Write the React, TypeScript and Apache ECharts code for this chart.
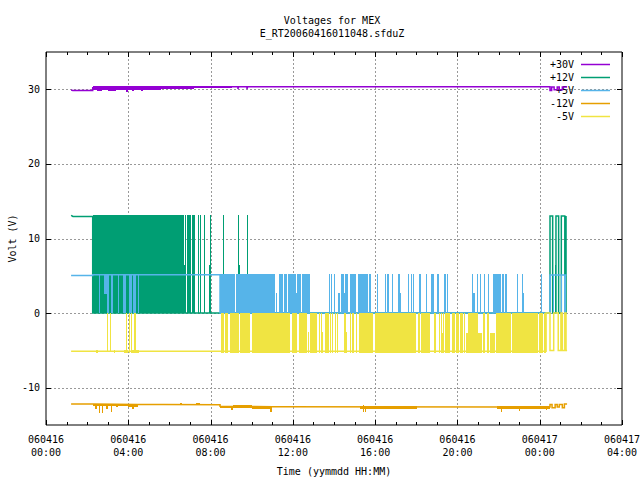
import React, { useEffect, useRef } from "react";
import * as echarts from "echarts";

const titleText = "Voltages for MEX\nE_RT20060416011048.sfduZ";
const xTitle = "Time (yymmdd HH:MM)";
const yTitle = "Volt (V)";
const xTickLabels: Record<number, string> = {
  0: "060416\n00:00", 4: "060416\n04:00", 8: "060416\n08:00", 12: "060416\n12:00",
  16: "060416\n16:00", 20: "060416\n20:00", 24: "060417\n00:00", 28: "060417\n04:00",
};
const xHours = [0,1,2,3,4,5,6,7,8,9,10,11,12,13,14,15,16,17,18,19,20,21,22,23,24,25,26,27,28];
const yTicks = [-10, 0, 10, 20, 30];

// Lines: [hour, volt]
const line30 = [[1.22,29.9],[1.3,29.85],[2.27,29.85],[2.27,30.2],[9.09,30.35],[9.33,30.35],[9.33,30.05],[9.36,30.35],[9.77,30.35],[9.77,30.05],[9.8,30.35],[24.5,30.35],[24.5,29.85],[24.58,29.85],[24.58,30.3],[24.7,30.3],[24.7,29.95],[24.85,29.95],[24.85,30.3],[24.95,30.3],[24.95,29.95],[25.1,29.95],[25.1,30.3],[25.33,30.3]];
const line12 = [[1.22,13.1],[1.31,12.95],[2.27,12.95],[2.27,0],[24.5,0],[24.5,13],[24.63,13],[24.63,0],[24.79,0],[24.79,13],[24.92,13],[24.92,0],[25.05,0],[25.05,13],[25.22,13],[25.22,0],[25.28,0],[25.28,13],[25.31,13]];
const line5 = [[1.22,5.05],[2.27,5.05],[2.27,5.15],[8.46,5.15],[8.46,0],[24.5,0],[24.5,5.1],[25.3,5.1]];
const lineM12 = [[1.22,-12.2],[2.28,-12.2],[4.47,-12.25],[5.69,-12.25],[5.69,-12.3],[8.46,-12.3],[8.46,-12.5],[11.03,-12.55],[11.03,-12.6],[24.5,-12.6],[24.5,-12.25],[24.6,-12.25],[24.6,-12.7],[24.75,-12.7],[24.75,-12.25],[24.85,-12.25],[24.85,-12.6],[24.95,-12.6],[24.95,-12.25],[25.1,-12.25],[25.1,-12.7],[25.2,-12.7],[25.2,-12.2],[25.33,-12.2]];
const lineM5 = [[1.22,-5.1],[8.5,-5.1],[24.31,-5.1],[24.31,0],[24.5,0],[24.5,-5],[24.68,-5],[24.68,0],[24.9,0],[24.9,-5],[25.03,-5],[25.03,0],[25.1,0],[25.1,-5],[25.22,-5],[25.22,0],[25.28,0],[25.28,-5],[25.33,-5]];

// Solid runs of rapid switching: [from hour, to hour, low volt, high volt]
const bars30 = [[1.74,2.27,29.75,29.9],[2.27,5.6,29.85,30.45],[5.6,7.2,30.0,30.45],[7.2,9.04,30.15,30.45],[2.5,2.7,29.8,30.45],[3.0,3.4,29.8,30.45],[3.9,4.0,29.7,30.45],[4.2,4.3,29.75,30.45],[4.6,4.7,29.75,30.45]];
const bars12 = [[2.27,6.71,0,13.1],[6.71,6.76,0,6.5],[6.76,6.82,0,13.1],[6.85,7.05,0,13.1],[7.10,7.24,0,13.1],[7.39,7.44,0,13.1],[7.49,7.53,0,13.1],[7.68,7.73,0,13.1],[7.97,8.04,0,13.1],[7.92,7.97,0,6.5],[8.60,8.65,0,13.1],[9.33,9.40,0,13.1],[9.40,9.45,0,6.5],[9.77,9.82,0,13.1],[24.72,24.79,0,6.5]];
const bars5 = [
  [2.59,2.62,0,5.2],[2.83,2.95,2.6,5.2],[2.95,2.98,0,5.2],[3.03,3.06,0,5.2],[3.17,3.26,0,5.2],[3.51,3.56,0,5.2],[3.74,3.89,0,5.2],[4.03,4.18,0,5.2],[4.23,4.31,0,5.2],[4.34,4.39,0,5.2],[4.46,4.50,0,5.2],
  [8.46,9.19,0,5.2],[9.24,11.13,0,5.2],[11.18,11.23,0,2.7],[11.33,11.52,0,5.2],[11.57,11.72,0,5.2],[11.76,12.15,0,5.2],[12.15,12.20,0,2.7],[12.20,12.40,0,5.2],[12.44,12.83,0,5.2],
  [13.76,13.81,0,5.2],[13.85,13.90,0,5.2],[14.00,14.05,0,5.2],[14.19,14.29,0,2.7],[14.34,14.49,0,5.2],[14.49,14.53,0,2.7],[14.53,14.68,0,5.2],[14.78,15.07,0,5.2],[15.17,15.65,0,5.2],[15.70,15.80,0,5.2],[16.09,16.14,0,5.2],
  [16.48,16.53,0,5.2],[16.58,16.67,0,5.2],[16.82,16.87,0,5.2],[17.11,17.21,0,5.2],[17.21,17.26,0,2.7],[17.60,17.65,0,5.2],[17.74,17.79,0,5.2],[17.84,17.89,0,5.2],[18.13,18.23,0,5.2],[18.47,18.52,0,5.2],[18.72,18.86,0,5.2],[19.01,19.10,0,5.2],[19.35,19.45,0,5.2],[19.49,19.54,0,5.2],
  [20.71,20.76,0,5.2],[20.76,20.83,0,2.7],[20.95,21.00,0,5.2],[21.10,21.15,0,5.2],[21.29,21.34,0,5.2],[21.49,21.54,0,5.2],[21.73,22.12,0,5.2],[22.17,22.27,0,5.2],[22.31,22.41,0,5.2],[22.90,22.95,0,5.2],[23.14,23.19,0,5.2],[23.19,23.24,0,2.7],[24.06,24.11,0,5.2],[24.50,24.55,0,5.1],[24.65,24.69,0,5.1],[25.03,25.08,0,5.1],[25.18,25.28,0,5.1],
];
const barsM12 = [[2.28,3.99,-12.45,-12.2],[2.58,2.62,-13.35,-12.2],[2.72,2.76,-13.35,-12.2],[3.16,3.2,-13.3,-12.2],[2.4,2.5,-12.8,-12.2],[2.9,3.0,-12.8,-12.2],[3.4,3.5,-12.65,-12.2],[3.99,4.47,-12.6,-12.25],[4.2,4.3,-12.8,-12.25],[6.5,6.6,-12.35,-12.05],[7.3,7.5,-12.35,-12.1],[8.46,9.0,-12.7,-12.4],[9.0,9.1,-13.0,-12.4],[9.1,10.0,-12.75,-12.35],[10.0,10.9,-12.8,-12.4],[10.9,10.98,-13.3,-12.4],[15.26,15.75,-12.8,-12.5],[15.4,15.42,-13.2,-12.3],[15.5,15.55,-13.2,-12.5],[15.75,18.03,-12.9,-12.5],[21.92,22.41,-12.9,-12.5],[22.1,22.15,-13.3,-12.55],[22.41,24.5,-12.85,-12.4],[23.0,23.05,-13.1,-12.4],[24.3,24.35,-13.0,-12.4]];
const barsM5 = [
  [2.97,3.01,-5.1,0],[3.11,3.16,-5.1,0],[2.45,2.55,-5.3,-5],[3.3,3.35,-5.3,-5],[3.89,3.94,-5.3,0],[3.8,4.0,-5.3,-5],[4.03,4.08,-5.3,0],[4.13,4.18,-5.3,0],[4.18,4.5,-5.3,-5],[4.28,4.37,-5.3,0],
  [8.51,8.65,-5.3,0],[8.70,8.85,-5.3,0],[8.94,9.38,-5.3,0],[9.43,9.92,-5.3,0],[10.01,11.86,-5.3,0],[11.96,12.20,-5.3,0],[12.30,12.69,-5.3,0],[12.74,12.78,-5.3,-2.6],[12.83,13.17,-5.3,0],[13.27,13.32,-5.3,0],[13.37,13.42,-5.3,0],[13.42,13.47,-5.3,-2.6],[13.56,13.76,-5.3,0],[13.81,13.85,-5.3,0],[13.90,13.95,-5.3,0],[14.05,14.10,-5.3,0],[14.15,14.19,-5.3,0],[14.49,14.58,-5.3,0],[14.58,14.63,-5.3,-2.6],[14.78,14.83,-5.3,0],[14.87,14.97,-5.3,0],[15.07,15.12,-5.3,0],[15.22,15.90,-5.3,0],[15.99,17.99,-5.3,0],
  [18.08,18.18,-5.3,0],[18.23,18.67,-5.3,0],[18.86,18.96,-5.3,0],[19.10,19.15,-5.3,0],[19.20,19.25,-5.3,0],[19.25,19.30,-5.3,-2.7],[19.30,19.35,-5.3,0],[19.40,19.64,-5.3,0],[19.74,19.88,-5.3,0],[19.93,20.08,-5.3,0],[20.12,20.27,-5.3,0],[20.32,20.37,-5.3,0],[20.42,20.51,-5.3,-2.7],[20.51,21.00,-5.3,0],[21.00,21.19,-5.3,-2.7],[21.24,21.34,-5.3,0],[21.44,21.54,-5.3,0],[21.58,21.83,-5.3,-2.7],[21.87,22.60,-5.3,0],[22.65,23.92,-5.3,0],[23.96,24.16,-5.3,0],[24.21,24.31,-5.3,0],
];

const FONT = "DejaVu Sans Mono";
const COLORS = { p30: "#9400d3", p12: "#009e73", p5: "#56b4e9", m12: "#e69f00", m5: "#f0e442" };

const barsSeries = (data: number[][], color: string, z: number) => ({
  type: "custom",
  z,
  silent: true,
  data,
  encode: { x: [0, 1], y: [2, 3] },
  renderItem: (_: any, api: any) => {
    const a = api.coord([api.value(0), api.value(3)]);
    const b = api.coord([api.value(1), api.value(2)]);
    const x0 = Math.round(a[0]);
    const x1 = Math.max(x0 + 1, Math.round(b[0]));
    const y0 = Math.round(a[1]);
    const y1 = Math.max(y0 + 1, Math.round(b[1]));
    return { type: "rect", shape: { x: x0, y: y0, width: x1 - x0, height: y1 - y0 }, style: { fill: color } };
  },
});

const lineSeries = (name: string, data: number[][], color: string, z: number) => ({
  type: "line",
  name,
  data,
  z,
  silent: true,
  showSymbol: false,
  symbol: "none",
  lineStyle: { color, width: 1.5, join: "miter" },
  itemStyle: { color },
});

const seg = (x1: number, y1: number, x2: number, y2: number, dashed: boolean) => ({
  type: "line",
  shape: { x1, y1, x2, y2 },
  style: dashed
    ? { stroke: "#999999", lineWidth: 1, lineDash: [2, 2] }
    : { stroke: "#000", lineWidth: 1 },
});

const xFrame = {
  type: "custom",
  z: 0,
  silent: true,
  data: xHours.map((h) => [h]),
  encode: { x: 0 },
  renderItem: (_: any, api: any) => {
    const h = api.value(0);
    const x = Math.round(api.coord([h, 0])[0]) + 0.5;
    const top = api.coord([h, 35])[1];
    const bot = api.coord([h, -15])[1];
    const major = h % 4 === 0;
    const len = major ? 5 : 3;
    const children: any[] = [seg(x, bot, x, bot - len, false), seg(x, top, x, top + len, false)];
    if (major && h > 0 && h < 28) children.unshift(seg(x, bot, x, top, true));
    return { type: "group", children };
  },
};

const yFrame = {
  type: "custom",
  z: 0,
  silent: true,
  data: yTicks.map((v) => [0, v]),
  encode: { y: 1 },
  renderItem: (_: any, api: any) => {
    const v = api.value(1);
    const y = Math.round(api.coord([0, v])[1]) + 0.5;
    const l = api.coord([0, v])[0];
    const r = api.coord([28, v])[0];
    return {
      type: "group",
      children: [seg(l, y, r, y, true), seg(l, y, l + 5, y, false), seg(r, y, r - 5, y, false)],
    };
  },
};

export default function App() {
  const ref = useRef<HTMLDivElement>(null);
  useEffect(() => {
    const chart = echarts.init(ref.current!, undefined, { renderer: "svg" });
    chart.setOption({
      animation: false,
      backgroundColor: "#fff",
      textStyle: { fontFamily: FONT, fontSize: 10, color: "#000" },
      title: {
        text: titleText,
        left: 327,
        top: 9,
        textAlign: "center",
        textStyle: { fontFamily: FONT, fontSize: 10, fontWeight: "normal", color: "#000", lineHeight: 13 },
      },
      grid: { left: 46, right: 18, top: 52, bottom: 55, outerBoundsMode: "none", show: true, borderColor: "#000", borderWidth: 1, backgroundColor: "transparent" },
      legend: {
        orient: "vertical",
        right: 30,
        top: 58,
        z: 1,
        align: "right",
        icon: "rect",
        itemWidth: 29,
        itemHeight: 1.5,
        itemGap: 0,
        padding: 0,
        selectedMode: false,
        data: ["+30V", "+12V", "+5V", "-12V", "-5V"],
        textStyle: { fontFamily: FONT, fontSize: 10, color: "#000", lineHeight: 13, padding: [0, 2, 0, 0] },
      },
      xAxis: {
        type: "value",
        min: 0,
        max: 28,
        interval: 1,
        name: xTitle,
        nameLocation: "middle",
        nameGap: 41,
        nameTextStyle: { fontFamily: FONT, fontSize: 10, color: "#000" },
        axisLine: { show: false },
        axisTick: { show: false },
        splitLine: { show: false },
        axisLabel: {
          margin: 8,
          fontFamily: FONT,
          fontSize: 10,
          color: "#000",
          lineHeight: 13,
          hideOverlap: false,
          showMinLabel: true,
          showMaxLabel: true,
          formatter: (v: number) => xTickLabels[v] ?? "",
        },
      },
      yAxis: {
        type: "value",
        min: -15,
        max: 35,
        interval: 5,
        name: yTitle,
        nameLocation: "middle",
        nameGap: 29,
        nameMoveOverlap: false,
        nameTextStyle: { fontFamily: FONT, fontSize: 10, color: "#000" },
        axisLine: { show: false },
        axisTick: { show: false },
        splitLine: { show: false },
        axisLabel: {
          margin: 6,
          fontFamily: FONT,
          fontSize: 10,
          color: "#000",
          formatter: (v: number) => (yTicks.includes(v) ? String(v) : ""),
        },
      },
      series: [
        xFrame,
        yFrame,
        barsSeries(bars30, COLORS.p30, 2),
        lineSeries("+30V", line30, COLORS.p30, 2),
        barsSeries(bars12, COLORS.p12, 3),
        lineSeries("+12V", line12, COLORS.p12, 3),
        barsSeries(bars5, COLORS.p5, 4),
        lineSeries("+5V", line5, COLORS.p5, 4),
        barsSeries(barsM12, COLORS.m12, 5),
        lineSeries("-12V", lineM12, COLORS.m12, 5),
        barsSeries(barsM5, COLORS.m5, 6),
        lineSeries("-5V", lineM5, COLORS.m5, 6),
      ],
    });
    return () => chart.dispose();
  }, []);
  return <div ref={ref} style={{ position: "absolute", left: 0, top: 0, width: 640, height: 480 }} />;
}
